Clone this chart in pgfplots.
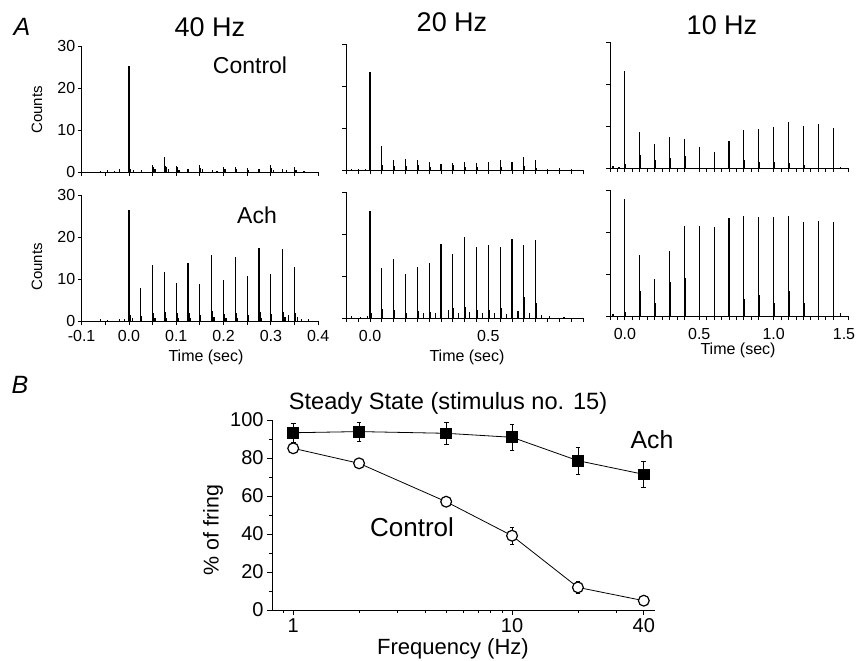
\documentclass[border=0pt]{standalone}
\usepackage{pgfplots}
\pgfplotsset{compat=1.18}
\usepackage{fontspec}
\setmainfont{Liberation Sans}

\pgfplotsset{
  psth/.style={scale only axis, anchor=south west, height=63pt,
    axis x line*=bottom, axis y line*=left, ymin=0, ymax=30, ytick={0,10,20,30},
    tick align=outside, major tick length=2pt, minor tick length=2pt,
    every tick/.style={black, line width=0.4pt},
    axis line style={line width=0.5pt},
    ticklabel style={font=\fontsize{8}{9}\selectfont, inner sep=1pt},
    /pgf/number format/assume math mode=true, clip=false},
  spikes/.style={ycomb, black, line width=0.6pt, mark=none},
}

\begin{document}
\begin{tikzpicture}
\useasboundingbox (0,0) rectangle (428pt,330pt);

% ---------- A: 40 Hz ----------
\begin{axis}[psth, at={(40.8pt,244pt)}, width=118.3pt, xmin=-0.1, xmax=0.4,
  xtick={-0.1,0,0.1,0.2,0.3,0.4}, xticklabels={},
  minor xtick={-0.05,0.05,0.15,0.25,0.35}]
\addplot[spikes] table {
t c
-0.060 0.3
-0.045 0.5
-0.030 0.3
-0.020 0.6
0.000 25.2
0.002 2.0
0.004 0.8
0.010 0.4
0.026 0.4
0.050 1.6
0.052 1.2
0.055 0.6
0.075 3.5
0.077 1.4
0.080 1.3
0.084 0.6
0.100 1.5
0.102 1.1
0.106 0.5
0.125 0.6
0.150 1.6
0.152 1.0
0.156 0.6
0.176 0.4
0.186 0.3
0.200 1.1
0.203 0.7
0.225 1.3
0.228 0.6
0.250 1.0
0.253 0.5
0.275 0.7
0.300 1.7
0.302 0.9
0.306 0.5
0.325 0.6
0.333 0.4
0.350 1.3
0.353 0.5
0.370 0.3
};
\end{axis}

\begin{axis}[psth, at={(40.8pt,169.5pt)}, width=118.3pt, xmin=-0.1, xmax=0.4,
  xtick={-0.1,0,0.1,0.2,0.3,0.4}, xticklabels={-0.1,0.0,0.1,0.2,0.3,0.4},
  xticklabel style={yshift=-1.5pt},
  minor xtick={-0.05,0.05,0.15,0.25,0.35}]
\addplot[spikes] table {
t c
-0.060 0.4
-0.045 0.3
-0.020 0.5
-0.010 0.4
0.000 26.4
0.002 2.8
0.004 1.5
0.007 0.8
0.025 7.9
0.027 1.2
0.050 13.3
0.052 2.0
0.055 0.8
0.075 11.7
0.077 2.2
0.080 0.7
0.100 9.1
0.102 1.8
0.105 0.6
0.125 13.7
0.127 2.0
0.130 0.8
0.150 8.7
0.152 1.5
0.175 15.8
0.177 2.4
0.180 0.9
0.200 9.7
0.202 1.7
0.205 0.7
0.225 15.3
0.227 2.0
0.230 0.8
0.250 10.7
0.252 1.4
0.275 17.3
0.277 2.1
0.280 0.8
0.300 11.1
0.302 1.6
0.325 17.1
0.327 2.2
0.330 0.9
0.337 1.5
0.350 12.9
0.352 1.8
0.356 0.9
0.365 0.5
0.380 0.4
};
\end{axis}

% ---------- A: 20 Hz ----------
\begin{axis}[psth, at={(173.2pt,245pt)}, width=118.3pt, xmin=-0.1, xmax=0.9,
  xtick={0,0.5}, xticklabels={}, yticklabels={},
  minor xtick={-0.1,-0.05,0.05,0.1,0.15,0.2,0.25,0.3,0.35,0.4,0.45,0.55,0.6,0.65,0.7,0.75,0.8,0.85,0.9}]
\addplot[spikes] table {
t c
-0.080 0.3
-0.050 0.3
-0.020 0.3
0.000 23.4
0.003 0.8
0.050 5.8
0.053 1.2
0.100 2.4
0.103 1.0
0.150 2.7
0.153 0.9
0.200 2.5
0.203 1.2
0.250 2.0
0.253 0.7
0.300 1.4
0.303 0.8
0.350 1.6
0.353 1.1
0.400 1.8
0.403 0.8
0.450 1.6
0.453 0.6
0.500 1.9
0.550 2.3
0.553 0.6
0.600 1.9
0.650 3.0
0.653 1.0
0.700 2.3
0.703 0.5
0.750 0.3
0.800 0.4
0.850 0.3
};
\end{axis}

\begin{axis}[psth, at={(173.2pt,171pt)}, width=118.3pt, xmin=-0.1, xmax=0.9,
  xtick={0,0.5}, xticklabels={0.0,0.5}, yticklabels={},
  xticklabel style={yshift=-3pt},
  minor xtick={-0.1,-0.05,0.05,0.1,0.15,0.2,0.25,0.3,0.35,0.4,0.45,0.55,0.6,0.65,0.7,0.75,0.8,0.85,0.9}]
\addplot[spikes] table {
t c
-0.080 0.4
-0.040 0.3
-0.010 0.4
0.000 25.4
0.003 3.0
0.006 1.2
0.050 12.0
0.053 2.2
0.100 14.0
0.103 1.8
0.150 10.5
0.153 1.2
0.200 12.1
0.203 1.6
0.225 1.2
0.250 13.2
0.253 1.5
0.275 1.3
0.300 17.6
0.303 2.2
0.330 1.8
0.350 15.2
0.353 2.5
0.375 1.2
0.400 19.3
0.403 2.6
0.420 1.4
0.450 16.8
0.453 2.0
0.475 1.2
0.500 17.3
0.503 2.0
0.525 1.3
0.550 17.0
0.553 2.5
0.575 1.0
0.600 18.7
0.603 2.5
0.625 1.6
0.650 17.3
0.653 5.0
0.675 1.2
0.700 18.6
0.703 3.5
0.725 0.8
0.760 0.4
0.820 0.3
};
\end{axis}

% ---------- A: 10 Hz ----------
\begin{axis}[psth, at={(305pt,246pt)}, width=119pt, xmin=-0.1, xmax=1.5,
  xtick={0,0.5,1,1.5}, xticklabels={}, yticklabels={},
  minor xtick={-0.1,-0.05,0.05,0.1,...,0.45,0.55,0.6,...,0.95,1.05,1.1,...,1.45}]
\addplot[spikes] table {
t c
-0.080 0.4
-0.040 0.3
0.000 23.2
0.004 1.0
0.100 8.5
0.104 3.0
0.200 5.7
0.204 2.0
0.300 7.5
0.304 2.5
0.400 6.9
0.404 2.8
0.500 5.0
0.504 1.2
0.600 3.7
0.604 1.3
0.700 6.5
0.704 1.5
0.800 9.0
0.804 2.0
0.900 9.2
0.904 1.5
1.000 9.8
1.004 1.5
1.100 10.9
1.104 1.2
1.200 9.9
1.204 0.8
1.300 10.4
1.304 1.2
1.400 9.6
1.404 0.6
1.450 0.3
};
\end{axis}

\begin{axis}[psth, at={(305pt,172pt)}, width=119pt, xmin=-0.1, xmax=1.5,
  xtick={0,0.5,1,1.5}, xticklabels={0.0,0.5,1.0,{\hspace*{-4pt}1.5}}, yticklabels={},
  xticklabel style={yshift=-3pt},
  minor xtick={-0.1,-0.05,0.05,0.1,...,0.45,0.55,0.6,...,0.95,1.05,1.1,...,1.45}]
\addplot[spikes] table {
t c
-0.080 0.4
0.000 27.8
0.004 1.0
0.100 14.6
0.104 6.0
0.200 8.8
0.204 3.0
0.300 15.4
0.304 8.0
0.400 21.4
0.404 9.0
0.500 21.4
0.504 5.0
0.600 21.1
0.604 4.0
0.700 23.4
0.704 4.0
0.800 23.8
0.804 4.0
0.900 23.5
0.904 5.0
1.000 23.5
1.004 3.0
1.100 23.9
1.104 6.0
1.200 22.4
1.204 3.0
1.300 22.6
1.304 2.0
1.400 22.4
1.404 1.5
1.450 0.6
};
\end{axis}

% ---------- B ----------
\begin{axis}[scale only axis, anchor=south west, at={(136pt,25pt)},
  width=191.5pt, height=95pt,
  xmode=log, xmin=0.8, xmax=45, ymin=0, ymax=100,
  axis x line*=bottom, axis y line*=left,
  xtick={1,10,40}, xticklabels={1,10,40},
  minor xtick={0.9,2,3,4,5,6,7,8,9,20,30},
  ytick={0,20,40,60,80,100}, minor ytick={10,30,50,70,90},
  tick align=outside, major tick length=2.5pt, minor tick length=1.5pt,
  every tick/.style={black, line width=0.4pt},
  axis line style={line width=0.5pt},
  ticklabel style={font=\fontsize{10}{11}\selectfont, inner sep=1.5pt},
  /pgf/number format/assume math mode=true, clip=false]
\addplot[black, line width=0.4pt, mark=square*, mark size=2.7pt,
  mark options={fill=black},
  error bars/.cd, y dir=both, y explicit,
  error bar style={line width=0.4pt},
  error mark options={rotate=90, mark size=1.2pt, line width=0.4pt}]
  table[x=f, y=p, y error=e] {
f p e
1 93.3 5
2 93.9 5
5 93.0 6
10 90.9 7
20 78.6 7
40 71.4 7
};
\addplot[black, line width=0.4pt, mark=*, mark size=2.7pt,
  mark options={fill=white, draw=black, line width=0.6pt},
  error bars/.cd, y dir=both, y explicit,
  error bar style={line width=0.4pt},
  error mark options={rotate=90, mark size=1.2pt, line width=0.4pt}]
  table[x=f, y=p, y error=e] {
f p e
1 85.1 2
2 77.2 2
5 57.0 2
10 39.1 4.5
20 11.9 3
40 4.9 2
};
\end{axis}

% ---------- text ----------
\node[font=\fontsize{12.5}{14}\selectfont\itshape] at (11pt,316.5pt) {A};
\node[font=\fontsize{13.5}{15}\selectfont] at (105pt,316.5pt) {40 Hz};
\node[font=\fontsize{13.5}{15}\selectfont] at (226pt,319pt) {20 Hz};
\node[font=\fontsize{13.5}{15}\selectfont] at (361pt,317.5pt) {10 Hz};
\node[font=\fontsize{11.5}{13}\selectfont] at (125pt,297.5pt) {Control};
\node[font=\fontsize{11.5}{13}\selectfont] at (128.5pt,222.5pt) {Ach};
\node[font=\fontsize{7.5}{8}\selectfont, rotate=90] at (18.5pt,275pt) {Counts};
\node[font=\fontsize{7.5}{8}\selectfont, rotate=90] at (18.5pt,196.5pt) {Counts};
\node[font=\fontsize{8}{9}\selectfont] at (103pt,151.5pt) {Time (sec)};
\node[font=\fontsize{8}{9}\selectfont] at (233.5pt,151.5pt) {Time (sec)};
\node[font=\fontsize{8}{9}\selectfont] at (369pt,155pt) {Time (sec)};

\node[font=\fontsize{12.5}{14}\selectfont\itshape] at (10pt,137.5pt) {B};
\node[font=\fontsize{11.8}{13}\selectfont] at (224pt,128.5pt) {Steady State (stimulus no. 15)};
\node[font=\fontsize{12.4}{14}\selectfont] at (326pt,110pt) {Ach};
\node[font=\fontsize{13}{15}\selectfont] at (206pt,66.5pt) {Control};
\node[font=\fontsize{10.7}{12}\selectfont, rotate=90] at (106.5pt,65pt) {\% of fring};
\node[font=\fontsize{11}{12}\selectfont] at (226.5pt,5.5pt) {Frequency (Hz)};
\end{tikzpicture}
\end{document}
